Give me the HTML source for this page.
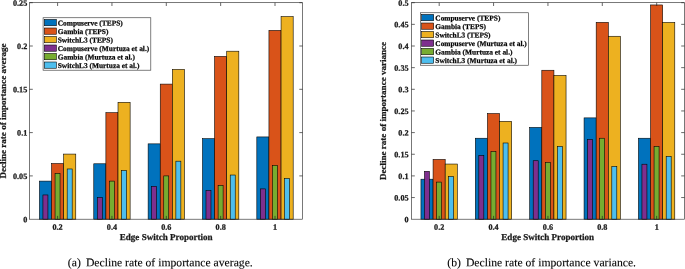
<!DOCTYPE html>
<html lang="en"><head><meta charset="utf-8"><title>Decline rate of importance</title>
<style>
html,body{margin:0;padding:0;background:#fff;}
body{width:685px;height:269px;overflow:hidden;font-family:"Liberation Serif","Times New Roman",serif;}
svg{display:block;will-change:transform;}
text{font-family:"Liberation Serif","Times New Roman",serif;fill:#1a1a1a;stroke:#1a1a1a;stroke-width:0.25px;}
.tk{font-size:8.2px;font-weight:bold;}
.lb{font-size:9.05px;font-weight:bold;}
.lg{font-size:7.4px;font-weight:bold;fill:#000;}
.cp{font-size:11.68px;fill:#000;stroke:#000;stroke-width:0.1px;}
</style></head><body>
<svg width="685" height="269" viewBox="0 0 685 269">
<rect width="685" height="269" fill="#fff"/>
<g>
<rect x="39.42" y="181.1" width="12.12" height="38.1" fill="#0072BD" stroke="#000" stroke-width="0.58"/>
<rect x="51.54" y="163.52" width="12.12" height="55.68" fill="#D95319" stroke="#000" stroke-width="0.58"/>
<rect x="63.66" y="154.08" width="12.12" height="65.12" fill="#EDB120" stroke="#000" stroke-width="0.58"/>
<rect x="42.93" y="194.95" width="5" height="24.25" fill="#7E2F8E" stroke="#000" stroke-width="0.58"/>
<rect x="55.05" y="173.3" width="5" height="45.9" fill="#77AC30" stroke="#000" stroke-width="0.58"/>
<rect x="67.17" y="168.97" width="5" height="50.23" fill="#4DBEEE" stroke="#000" stroke-width="0.58"/>
<rect x="93.77" y="163.78" width="12.12" height="55.42" fill="#0072BD" stroke="#000" stroke-width="0.58"/>
<rect x="105.89" y="112.68" width="12.12" height="106.52" fill="#D95319" stroke="#000" stroke-width="0.58"/>
<rect x="118.01" y="102.29" width="12.12" height="116.91" fill="#EDB120" stroke="#000" stroke-width="0.58"/>
<rect x="97.28" y="197.55" width="5" height="21.65" fill="#7E2F8E" stroke="#000" stroke-width="0.58"/>
<rect x="109.4" y="181.1" width="5" height="38.1" fill="#77AC30" stroke="#000" stroke-width="0.58"/>
<rect x="121.52" y="170.7" width="5" height="48.5" fill="#4DBEEE" stroke="#000" stroke-width="0.58"/>
<rect x="148.12" y="143.86" width="12.12" height="75.34" fill="#0072BD" stroke="#000" stroke-width="0.58"/>
<rect x="160.24" y="84.1" width="12.12" height="135.1" fill="#D95319" stroke="#000" stroke-width="0.58"/>
<rect x="172.36" y="69.38" width="12.12" height="149.82" fill="#EDB120" stroke="#000" stroke-width="0.58"/>
<rect x="151.63" y="186.29" width="5" height="32.91" fill="#7E2F8E" stroke="#000" stroke-width="0.58"/>
<rect x="163.75" y="175.9" width="5" height="43.3" fill="#77AC30" stroke="#000" stroke-width="0.58"/>
<rect x="175.87" y="161.18" width="5" height="58.02" fill="#4DBEEE" stroke="#000" stroke-width="0.58"/>
<rect x="202.47" y="138.66" width="12.12" height="80.54" fill="#0072BD" stroke="#000" stroke-width="0.58"/>
<rect x="214.59" y="56.39" width="12.12" height="162.81" fill="#D95319" stroke="#000" stroke-width="0.58"/>
<rect x="226.71" y="51.2" width="12.12" height="168" fill="#EDB120" stroke="#000" stroke-width="0.58"/>
<rect x="205.98" y="190.62" width="5" height="28.58" fill="#7E2F8E" stroke="#000" stroke-width="0.58"/>
<rect x="218.1" y="185.43" width="5" height="33.77" fill="#77AC30" stroke="#000" stroke-width="0.58"/>
<rect x="230.22" y="175.03" width="5" height="44.17" fill="#4DBEEE" stroke="#000" stroke-width="0.58"/>
<rect x="256.82" y="136.93" width="12.12" height="82.27" fill="#0072BD" stroke="#000" stroke-width="0.58"/>
<rect x="268.94" y="30.41" width="12.12" height="188.79" fill="#D95319" stroke="#000" stroke-width="0.58"/>
<rect x="281.06" y="16.56" width="12.12" height="202.64" fill="#EDB120" stroke="#000" stroke-width="0.58"/>
<rect x="260.33" y="188.89" width="5" height="30.31" fill="#7E2F8E" stroke="#000" stroke-width="0.58"/>
<rect x="272.45" y="165.51" width="5" height="53.69" fill="#77AC30" stroke="#000" stroke-width="0.58"/>
<rect x="284.57" y="178.5" width="5" height="40.7" fill="#4DBEEE" stroke="#000" stroke-width="0.58"/>
<rect x="29.5" y="2.7" width="273.1" height="216.5" fill="none" stroke="#262626" stroke-width="0.62"/>
<path d="M57.6 219.2v-3.3M57.6 2.7v3.3M111.95 219.2v-3.3M111.95 2.7v3.3M166.3 219.2v-3.3M166.3 2.7v3.3M220.65 219.2v-3.3M220.65 2.7v3.3M275 219.2v-3.3M275 2.7v3.3M29.5 175.9h3.3M302.6 175.9h-3.3M29.5 132.6h3.3M302.6 132.6h-3.3M29.5 89.3h3.3M302.6 89.3h-3.3M29.5 46h3.3M302.6 46h-3.3M29.5 2.7h3.3M302.6 2.7h-3.3" fill="none" stroke="#262626" stroke-width="0.7"/>
<text class="tk" x="27.3" y="222.2" transform="rotate(0.03 27.3 222.2)" text-anchor="end">0</text>
<text class="tk" x="27.3" y="178.9" transform="rotate(0.03 27.3 178.9)" text-anchor="end">0.05</text>
<text class="tk" x="27.3" y="135.6" transform="rotate(0.03 27.3 135.6)" text-anchor="end">0.1</text>
<text class="tk" x="27.3" y="92.3" transform="rotate(0.03 27.3 92.3)" text-anchor="end">0.15</text>
<text class="tk" x="27.3" y="49" transform="rotate(0.03 27.3 49)" text-anchor="end">0.2</text>
<text class="tk" x="27.3" y="5.7" transform="rotate(0.03 27.3 5.7)" text-anchor="end">0.25</text>
<text class="tk" x="57.6" y="229.8" transform="rotate(0.03 57.6 229.8)" text-anchor="middle">0.2</text>
<text class="tk" x="111.95" y="229.8" transform="rotate(0.03 111.95 229.8)" text-anchor="middle">0.4</text>
<text class="tk" x="166.3" y="229.8" transform="rotate(0.03 166.3 229.8)" text-anchor="middle">0.6</text>
<text class="tk" x="220.65" y="229.8" transform="rotate(0.03 220.65 229.8)" text-anchor="middle">0.8</text>
<text class="tk" x="275" y="229.8" transform="rotate(0.03 275 229.8)" text-anchor="middle">1</text>
<text class="lb" x="166.2" y="240.05" transform="rotate(0.03 166.2 240.05)" text-anchor="middle">Edge Switch Proportion</text>
<text class="lb" transform="translate(6.4 111) rotate(-90)" text-anchor="middle">Decline rate of importance average</text>
<rect x="43.1" y="17.75" width="107.7" height="52.45" fill="#fff" stroke="#262626" stroke-opacity="0.9" stroke-width="0.65"/>
<rect x="44.35" y="19.5" width="12" height="6.25" fill="#0072BD" stroke="#000" stroke-width="0.58"/>
<text class="lg" x="57.7" y="25.55" transform="rotate(0.03 57.7 25.55)">Compuserve (TEPS)</text>
<rect x="44.35" y="28" width="12" height="6.25" fill="#D95319" stroke="#000" stroke-width="0.58"/>
<text class="lg" x="57.7" y="34.05" transform="rotate(0.03 57.7 34.05)">Gambia (TEPS)</text>
<rect x="44.35" y="36.5" width="12" height="6.25" fill="#EDB120" stroke="#000" stroke-width="0.58"/>
<text class="lg" x="57.7" y="42.55" transform="rotate(0.03 57.7 42.55)">SwitchL3 (TEPS)</text>
<rect x="44.35" y="45" width="12" height="6.25" fill="#7E2F8E" stroke="#000" stroke-width="0.58"/>
<text class="lg" x="57.7" y="51.05" transform="rotate(0.03 57.7 51.05)">Compuserve (Murtuza et al.)</text>
<rect x="44.35" y="53.5" width="12" height="6.25" fill="#77AC30" stroke="#000" stroke-width="0.58"/>
<text class="lg" x="57.7" y="59.55" transform="rotate(0.03 57.7 59.55)">Gambia (Murtuza et al.)</text>
<rect x="44.35" y="62" width="12" height="6.25" fill="#4DBEEE" stroke="#000" stroke-width="0.58"/>
<text class="lg" x="57.7" y="68.05" transform="rotate(0.03 57.7 68.05)">SwitchL3 (Murtuza et al.)</text>
<text class="cp" x="67.85" y="266.2" transform="rotate(0.03 67.85 266.2)">(a)</text>
<text class="cp" x="85.9" y="266.2" transform="rotate(0.03 85.9 266.2)">Decline rate of importance average.</text>
</g>
<g>
<rect x="420.95" y="179.19" width="12.12" height="40.01" fill="#0072BD" stroke="#000" stroke-width="0.58"/>
<rect x="433.07" y="159.45" width="12.12" height="59.75" fill="#D95319" stroke="#000" stroke-width="0.58"/>
<rect x="445.19" y="164.04" width="12.12" height="55.16" fill="#EDB120" stroke="#000" stroke-width="0.58"/>
<rect x="424.46" y="171.31" width="5" height="47.89" fill="#7E2F8E" stroke="#000" stroke-width="0.58"/>
<rect x="436.58" y="182.09" width="5" height="37.11" fill="#77AC30" stroke="#000" stroke-width="0.58"/>
<rect x="448.7" y="176.64" width="5" height="42.56" fill="#4DBEEE" stroke="#000" stroke-width="0.58"/>
<rect x="475.32" y="138.23" width="12.12" height="80.97" fill="#0072BD" stroke="#000" stroke-width="0.58"/>
<rect x="487.44" y="113.55" width="12.12" height="105.65" fill="#D95319" stroke="#000" stroke-width="0.58"/>
<rect x="499.56" y="121.34" width="12.12" height="97.86" fill="#EDB120" stroke="#000" stroke-width="0.58"/>
<rect x="478.83" y="155.55" width="5" height="63.65" fill="#7E2F8E" stroke="#000" stroke-width="0.58"/>
<rect x="490.95" y="151.65" width="5" height="67.55" fill="#77AC30" stroke="#000" stroke-width="0.58"/>
<rect x="503.07" y="142.99" width="5" height="76.21" fill="#4DBEEE" stroke="#000" stroke-width="0.58"/>
<rect x="529.69" y="127.4" width="12.12" height="91.8" fill="#0072BD" stroke="#000" stroke-width="0.58"/>
<rect x="541.81" y="70.25" width="12.12" height="148.95" fill="#D95319" stroke="#000" stroke-width="0.58"/>
<rect x="553.93" y="75.44" width="12.12" height="143.76" fill="#EDB120" stroke="#000" stroke-width="0.58"/>
<rect x="533.2" y="160.74" width="5" height="58.46" fill="#7E2F8E" stroke="#000" stroke-width="0.58"/>
<rect x="545.32" y="162.48" width="5" height="56.72" fill="#77AC30" stroke="#000" stroke-width="0.58"/>
<rect x="557.44" y="146.46" width="5" height="72.74" fill="#4DBEEE" stroke="#000" stroke-width="0.58"/>
<rect x="584.06" y="117.88" width="12.12" height="101.32" fill="#0072BD" stroke="#000" stroke-width="0.58"/>
<rect x="596.18" y="22.36" width="12.12" height="196.84" fill="#D95319" stroke="#000" stroke-width="0.58"/>
<rect x="608.3" y="36.26" width="12.12" height="182.94" fill="#EDB120" stroke="#000" stroke-width="0.58"/>
<rect x="587.57" y="139.53" width="5" height="79.67" fill="#7E2F8E" stroke="#000" stroke-width="0.58"/>
<rect x="599.69" y="138.23" width="5" height="80.97" fill="#77AC30" stroke="#000" stroke-width="0.58"/>
<rect x="611.81" y="166.46" width="5" height="52.74" fill="#4DBEEE" stroke="#000" stroke-width="0.58"/>
<rect x="638.43" y="138.23" width="12.12" height="80.97" fill="#0072BD" stroke="#000" stroke-width="0.58"/>
<rect x="650.55" y="4.95" width="12.12" height="214.25" fill="#D95319" stroke="#000" stroke-width="0.58"/>
<rect x="662.67" y="22.4" width="12.12" height="196.8" fill="#EDB120" stroke="#000" stroke-width="0.58"/>
<rect x="641.94" y="164.21" width="5" height="54.99" fill="#7E2F8E" stroke="#000" stroke-width="0.58"/>
<rect x="654.06" y="146.46" width="5" height="72.74" fill="#77AC30" stroke="#000" stroke-width="0.58"/>
<rect x="666.18" y="156.41" width="5" height="62.78" fill="#4DBEEE" stroke="#000" stroke-width="0.58"/>
<rect x="411.5" y="2.7" width="273" height="216.5" fill="none" stroke="#262626" stroke-width="0.62"/>
<path d="M439.2 219.2v-3.3M439.2 2.7v3.3M493.57 219.2v-3.3M493.57 2.7v3.3M547.94 219.2v-3.3M547.94 2.7v3.3M602.31 219.2v-3.3M602.31 2.7v3.3M656.68 219.2v-3.3M656.68 2.7v3.3M411.5 197.55h3.3M684.5 197.55h-3.3M411.5 175.9h3.3M684.5 175.9h-3.3M411.5 154.25h3.3M684.5 154.25h-3.3M411.5 132.6h3.3M684.5 132.6h-3.3M411.5 110.95h3.3M684.5 110.95h-3.3M411.5 89.3h3.3M684.5 89.3h-3.3M411.5 67.65h3.3M684.5 67.65h-3.3M411.5 46h3.3M684.5 46h-3.3M411.5 24.35h3.3M684.5 24.35h-3.3M411.5 2.7h3.3M684.5 2.7h-3.3" fill="none" stroke="#262626" stroke-width="0.7"/>
<text class="tk" x="408.6" y="222.2" transform="rotate(0.03 408.6 222.2)" text-anchor="end">0</text>
<text class="tk" x="408.6" y="200.55" transform="rotate(0.03 408.6 200.55)" text-anchor="end">0.05</text>
<text class="tk" x="408.6" y="178.9" transform="rotate(0.03 408.6 178.9)" text-anchor="end">0.1</text>
<text class="tk" x="408.6" y="157.25" transform="rotate(0.03 408.6 157.25)" text-anchor="end">0.15</text>
<text class="tk" x="408.6" y="135.6" transform="rotate(0.03 408.6 135.6)" text-anchor="end">0.2</text>
<text class="tk" x="408.6" y="113.95" transform="rotate(0.03 408.6 113.95)" text-anchor="end">0.25</text>
<text class="tk" x="408.6" y="92.3" transform="rotate(0.03 408.6 92.3)" text-anchor="end">0.3</text>
<text class="tk" x="408.6" y="70.65" transform="rotate(0.03 408.6 70.65)" text-anchor="end">0.35</text>
<text class="tk" x="408.6" y="49" transform="rotate(0.03 408.6 49)" text-anchor="end">0.4</text>
<text class="tk" x="408.6" y="27.35" transform="rotate(0.03 408.6 27.35)" text-anchor="end">0.45</text>
<text class="tk" x="408.6" y="5.7" transform="rotate(0.03 408.6 5.7)" text-anchor="end">0.5</text>
<text class="tk" x="439.2" y="229.8" transform="rotate(0.03 439.2 229.8)" text-anchor="middle">0.2</text>
<text class="tk" x="493.57" y="229.8" transform="rotate(0.03 493.57 229.8)" text-anchor="middle">0.4</text>
<text class="tk" x="547.94" y="229.8" transform="rotate(0.03 547.94 229.8)" text-anchor="middle">0.6</text>
<text class="tk" x="602.31" y="229.8" transform="rotate(0.03 602.31 229.8)" text-anchor="middle">0.8</text>
<text class="tk" x="656.68" y="229.8" transform="rotate(0.03 656.68 229.8)" text-anchor="middle">1</text>
<text class="lb" x="547.75" y="240.05" transform="rotate(0.03 547.75 240.05)" text-anchor="middle">Edge Switch Proportion</text>
<text class="lb" transform="translate(386.1 111) rotate(-90)" text-anchor="middle">Decline rate of importance variance</text>
<rect x="420.6" y="12.75" width="107.85" height="52.5" fill="#fff" stroke="#262626" stroke-opacity="0.9" stroke-width="0.65"/>
<rect x="421.7" y="14.5" width="12" height="6.25" fill="#0072BD" stroke="#000" stroke-width="0.58"/>
<text class="lg" x="435.3" y="20.55" transform="rotate(0.03 435.3 20.55)">Compuserve (TEPS)</text>
<rect x="421.7" y="23" width="12" height="6.25" fill="#D95319" stroke="#000" stroke-width="0.58"/>
<text class="lg" x="435.3" y="29.05" transform="rotate(0.03 435.3 29.05)">Gambia (TEPS)</text>
<rect x="421.7" y="31.5" width="12" height="6.25" fill="#EDB120" stroke="#000" stroke-width="0.58"/>
<text class="lg" x="435.3" y="37.55" transform="rotate(0.03 435.3 37.55)">SwitchL3 (TEPS)</text>
<rect x="421.7" y="40" width="12" height="6.25" fill="#7E2F8E" stroke="#000" stroke-width="0.58"/>
<text class="lg" x="435.3" y="46.05" transform="rotate(0.03 435.3 46.05)">Compuserve (Murtuza et al.)</text>
<rect x="421.7" y="48.5" width="12" height="6.25" fill="#77AC30" stroke="#000" stroke-width="0.58"/>
<text class="lg" x="435.3" y="54.55" transform="rotate(0.03 435.3 54.55)">Gambia (Murtuza et al.)</text>
<rect x="421.7" y="57" width="12" height="6.25" fill="#4DBEEE" stroke="#000" stroke-width="0.58"/>
<text class="lg" x="435.3" y="63.05" transform="rotate(0.03 435.3 63.05)">SwitchL3 (Murtuza et al.)</text>
<text class="cp" x="447.3" y="266.2" transform="rotate(0.03 447.3 266.2)">(b)</text>
<text class="cp" x="465.9" y="266.2" transform="rotate(0.03 465.9 266.2)">Decline rate of importance variance.</text>
</g>
</svg>
</body></html>
